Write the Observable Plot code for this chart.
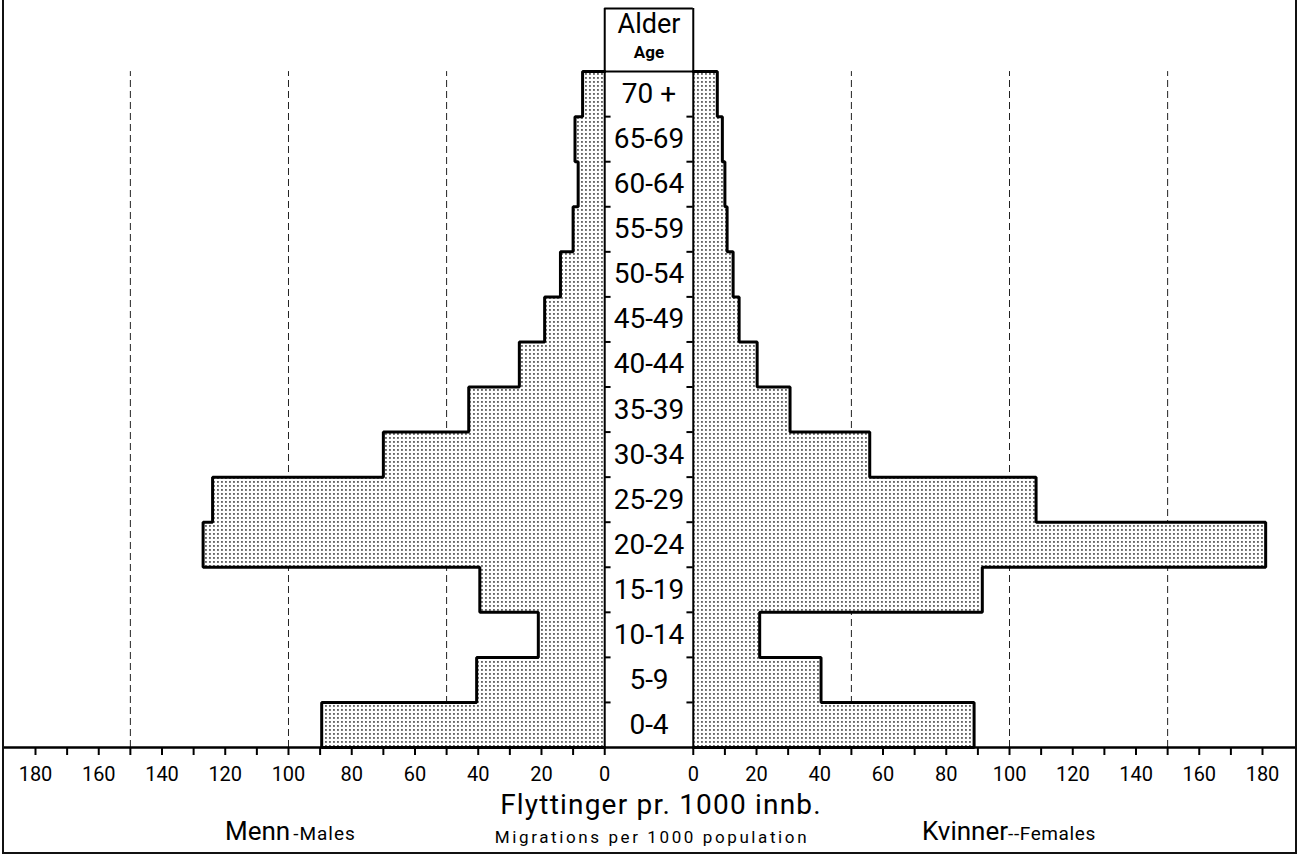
<!DOCTYPE html>
<html>
<head>
<meta charset="utf-8">
<script src="https://cdn.jsdelivr.net/npm/d3@7"></script>
<script src="https://cdn.jsdelivr.net/npm/@observablehq/plot@0.6"></script>
<style>
  html, body { margin: 0; padding: 0; background: #fff; }
  #wrap { position: relative; width: 1300px; height: 856px; overflow: hidden; font-family: Roboto, sans-serif; color: #000; }
  #chart { position: absolute; left: 0; top: 0; }
  #border { position: absolute; left: 2px; top: -4px; width: 1291px; height: 856px; border: 2px solid #111; border-top: none; }
  .cap { position: absolute; white-space: nowrap; line-height: 1; }
</style>
</head>
<body>
<div id="wrap">
  <div id="chart"></div>
  <div id="border"></div>
  <div class="cap" id="cap1" style="left:661px; top:791px; font-size:28px; letter-spacing:1.2px; transform:translateX(-50%);">Flyttinger pr. 1000 innb.</div>
  <div class="cap" id="cap2" style="left:652px; top:829px; font-size:17px; letter-spacing:2.6px; transform:translateX(-50%);">Migrations per 1000 population</div>
  <div class="cap" id="cap3" style="left:225px; top:818px; font-size:26px;">Menn<span style="font-size:19px; letter-spacing:1px;">&#8202;-Males</span></div>
  <div class="cap" id="cap4" style="left:922px; top:818px; font-size:26px;">Kvinner<span style="font-size:19px; letter-spacing:0.6px;">--Females</span></div>
</div>
<script>
// ---- data ----
const ages = ["0-4", "5-9", "10-14", "15-19", "20-24", "25-29", "30-34", "35-39", "40-44", "45-49", "50-54", "55-59", "60-64", "65-69", "70 +"];
const males = [89.5, 40.5, 21, 39.5, 127, 124, 70, 43, 27, 19, 14, 10, 8.4, 9.4, 7];
const females = [88.8, 40.4, 21, 91.4, 181, 108.4, 55.8, 30.6, 20.2, 14.5, 12.6, 10.7, 10, 9.2, 7.6];
const tickValues = d3.range(0, 181, 10);
const labelValues = d3.range(0, 181, 20);
const gridValues = [50, 100, 150];
const headerTitle = "Alder";
const headerSub = "Age";

// ---- layout helpers ----
const GAP = 28;           // width of the central age column, in axis units
const HEADER = 1.4;       // height of the "Alder / Age" box, in age-band units
const n = ages.length;
const mx = v => -v;       // males drawn leftwards from 0
const fx = v => v + GAP;  // females drawn rightwards from the column's right edge

function stairs(values) {
  const pts = [{y: 0, v: 0}];
  values.forEach((v, i) => { pts.push({y: i, v}); pts.push({y: i + 1, v}); });
  pts.push({y: values.length, v: 0});
  return pts;
}
const maleSteps = stairs(males);
const femaleSteps = stairs(females);
const rows = ages.map((age, i) => ({age, i}));
const bounds = d3.range(1, n);

const plot = Plot.plot({
  width: 1300,
  height: 790,
  marginLeft: 3,
  marginRight: 3,
  marginTop: 8,
  marginBottom: 43,
  style: {fontFamily: "Roboto, sans-serif", background: "transparent", color: "#000"},
  x: {domain: [-180, 180 + GAP], range: [35, 1262], label: null},
  y: {domain: [0, n + HEADER], axis: null, label: null},
  marks: [
    // dashed reference lines
    Plot.ruleX(gridValues, {x: mx, y1: 0, y2: n, stroke: "#222", strokeWidth: 1, strokeDasharray: "7,4"}),
    Plot.ruleX(gridValues, {x: fx, y1: 0, y2: n, stroke: "#222", strokeWidth: 1, strokeDasharray: "7,4"}),
    // stippled bars
    Plot.areaX(maleSteps, {y: "y", x1: 0, x2: d => mx(d.v), fill: "url(#dots)", curve: "linear"}),
    Plot.areaX(femaleSteps, {y: "y", x1: GAP, x2: d => fx(d.v), fill: "url(#dots)", curve: "linear"}),
    // outlines
    Plot.lineX(maleSteps, {x: d => mx(d.v), y: "y", stroke: "#000", strokeWidth: 3, strokeLinejoin: "miter", curve: "linear"}),
    Plot.lineX(femaleSteps, {x: d => fx(d.v), y: "y", stroke: "#000", strokeWidth: 3, strokeLinejoin: "miter", curve: "linear"}),
    // central column
    Plot.ruleX([0, GAP], {y1: 0, y2: n + HEADER, stroke: "#000", strokeWidth: 2}),
    Plot.ruleY([n, n + HEADER], {x1: 0, x2: GAP, stroke: "#000", strokeWidth: 2}),
    Plot.ruleY(bounds, {x1: 0, x2: 2, stroke: "#000", strokeWidth: 2}),
    Plot.ruleY(bounds, {x1: GAP - 2, x2: GAP, stroke: "#000", strokeWidth: 2}),
    Plot.text(rows, {x: GAP / 2, y: d => d.i + 0.5, text: "age", fontSize: 28, fill: "#000"}),
    Plot.text([headerTitle], {x: GAP / 2, y: n + 1.04, text: d => d, fontSize: 27, fill: "#000"}),
    Plot.text([headerSub], {x: GAP / 2, y: n + 0.42, text: d => d, fontSize: 17, fontWeight: "bold", fill: "#000"}),
    // horizontal axis
    Plot.ruleY([0], {stroke: "#000", strokeWidth: 2.5}),
    Plot.axisX([...tickValues.map(mx), ...tickValues.map(fx)], {
      anchor: "bottom", tickSize: 8, strokeWidth: 2, tickFormat: () => "", label: null
    }),
    Plot.axisX([...labelValues.map(mx), ...labelValues.map(fx)], {
      anchor: "bottom", tickSize: 0, tickPadding: 19, fontSize: 20, label: null,
      tickFormat: d => String(Math.round(d <= 0 ? -d : d - GAP))
    })
  ]
});

d3.select(plot).insert("defs", ":first-child").html(
  '<pattern id="dots" width="4" height="4" patternUnits="userSpaceOnUse">' +
  '<rect width="4" height="4" fill="#fff"/>' +
  '<rect x="1.2" y="1.2" width="1.5" height="1.5" fill="#111"/>' +
  '</pattern>'
);
document.getElementById("chart").appendChild(plot);
</script>
</body>
</html>
